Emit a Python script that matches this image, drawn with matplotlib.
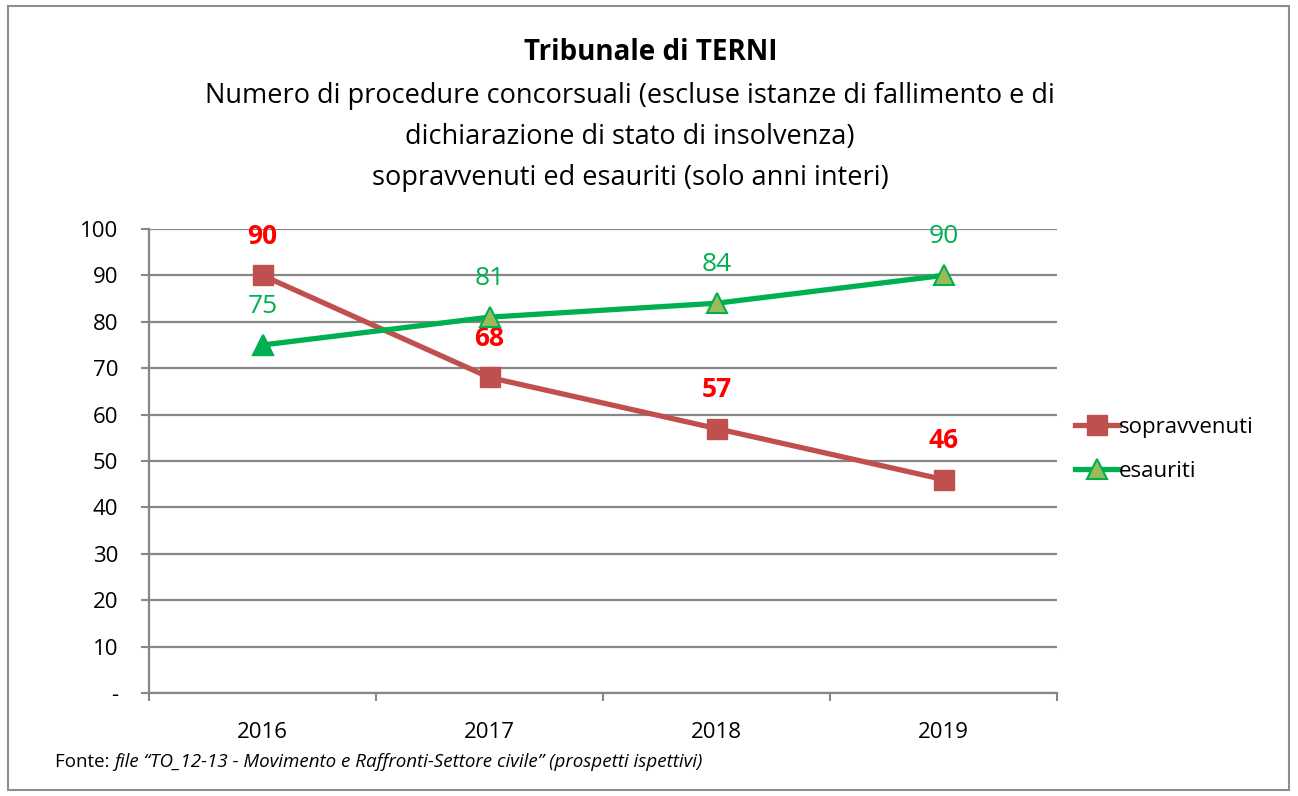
import matplotlib
matplotlib.use("Agg")
import matplotlib.pyplot as plt
from matplotlib.patches import Rectangle

plt.rcParams["font.family"] = ["Open Sans", "DejaVu Sans"]

years = ["2016", "2017", "2018", "2019"]
sopravvenuti = [90, 68, 57, 46]
esauriti = [75, 81, 84, 90]
yticks = [0, 10, 20, 30, 40, 50, 60, 70, 80, 90, 100]
ytick_labels = ["-", "10", "20", "30", "40", "50", "60", "70", "80", "90", "100"]

C_RED = "#C0504D"; C_GREEN = "#00B050"; C_OLIVE = "#9BBB59"; C_GRID = "#878787"

W, H = 1298, 796
fig = plt.figure(figsize=(W / 100, H / 100), dpi=100)
fig.patches.append(Rectangle((8 / W, 6 / H), 1281 / W, 784 / H, transform=fig.transFigure,
                             fill=False, edgecolor="#8c8c8c", lw=1.5))

ax = fig.add_axes([149 / W, 1 - 693 / H, 908 / W, 464 / H])
x = list(range(len(years)))

ax.plot(x, sopravvenuti, color=C_RED, lw=3.8, marker="s", ms=14, mfc=C_RED, mec=C_RED,
        label="sopravvenuti", zorder=3)
ax.plot(x, esauriti, color=C_GREEN, lw=3.8, marker="^", ms=14, mfc=C_OLIVE, mec=C_GREEN,
        mew=1.5, label="esauriti", zorder=4)
# first triangle is solid green
ax.plot(x[0], esauriti[0], marker="^", ms=14, mfc=C_GREEN, mec=C_GREEN, ls="none", zorder=5)

for xi, v in zip(x, sopravvenuti):
    ax.annotate(str(v), (xi, v), xytext=(0, 28), textcoords="offset points", ha="center",
                va="center", color="#FF0000", fontsize=19, fontweight="bold")
for xi, v in zip(x, esauriti):
    ax.annotate(str(v), (xi, v), xytext=(0, 28), textcoords="offset points", ha="center",
                va="center", color=C_GREEN, fontsize=19)

ax.set_xlim(-0.5, 3.5)
ax.set_ylim(0, 100)
ax.set_yticks(yticks)
ax.set_yticklabels(ytick_labels, fontsize=16)
ax.set_xticks(x)
ax.set_xticklabels(years, fontsize=16)
ax.set_xticks([-0.5, 0.5, 1.5, 2.5, 3.5], minor=True)
ax.tick_params(axis="x", which="major", length=0, pad=21)
ax.tick_params(axis="x", which="minor", length=6, width=1.5, color=C_GRID, direction="out")
ax.tick_params(axis="y", length=6, width=1.5, color=C_GRID, direction="out", pad=16)
ax.grid(axis="y", color=C_GRID, lw=1.6)
ax.set_axisbelow(True)
for s in ["top", "right"]:
    ax.spines[s].set_visible(False)
for s in ["left", "bottom"]:
    ax.spines[s].set_color(C_GRID)
    ax.spines[s].set_linewidth(1.6)

ax.legend(loc="center left", bbox_to_anchor=(1.0, 0.525), frameon=False, fontsize=16,
          handlelength=2.0, handletextpad=0.0, labelspacing=1.05, borderaxespad=0.4)

fig.text(651 / W, 1 - 52 / H, "Tribunale di TERNI", ha="center", va="center",
         fontsize=20, fontweight="bold")
fig.text(630 / W, 1 - 137 / H,
         "Numero di procedure concorsuali (escluse istanze di fallimento e di\n"
         "dichiarazione di stato di insolvenza)\n"
         "sopravvenuti ed esauriti (solo anni interi)",
         ha="center", va="center", fontsize=19.5, linespacing=1.6)

t1 = fig.text(55 / W, 1 - 762 / H, "Fonte: ", ha="left", va="center", fontsize=13.5)
fig.canvas.draw()
bb = t1.get_window_extent(renderer=fig.canvas.get_renderer())
fig.text(bb.x1 / W, 1 - 762 / H,
         "file \u201cTO_12-13 - Movimento e Raffronti-Settore civile\u201d (prospetti ispettivi)",
         ha="left", va="center", fontsize=13.5, style="italic")

fig.savefig("out.png", dpi=100)
